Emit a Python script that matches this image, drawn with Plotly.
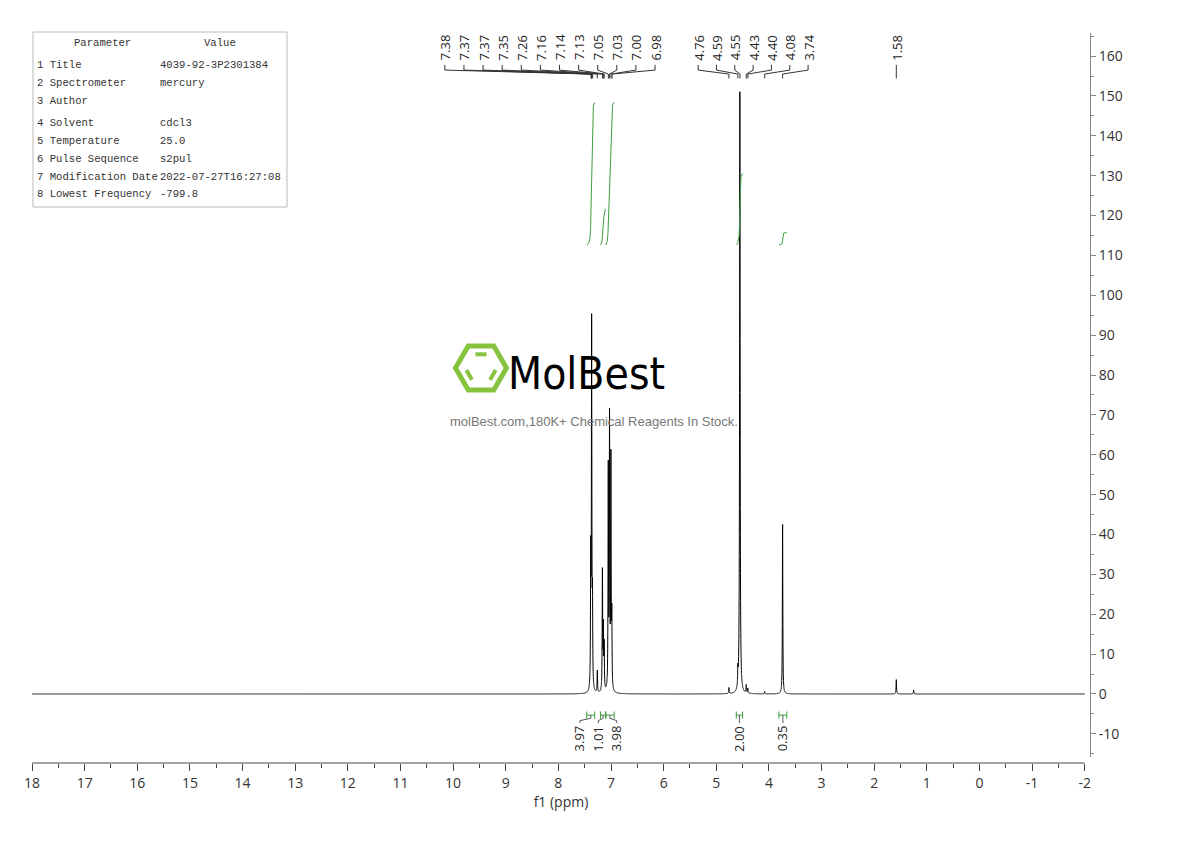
import numpy as np
import plotly.graph_objects as go

# ---------------- data ----------------
# spectrum peaks (ppm, height, half-width)
peak_ppm = [7.385, 7.368, 7.352, 7.26, 7.163, 7.145, 7.13, 7.052, 7.028, 7.002, 6.985,
            4.76, 4.59, 4.552, 4.43, 4.40, 4.08, 3.74, 1.58, 1.25]
peak_height = [32, 91, 20, 5.5, 30, 15, 11, 55, 67, 57, 17,
               1.5, 4.0, 151, 2.0, 1.2, 0.6, 42.5, 3.6, 1.0]
peak_hwhm = [0.005] * 13 + [0.006] + [0.005] * 6

# peak-pick labels (three groups)
pick_group1 = [7.38, 7.37, 7.37, 7.35, 7.26, 7.16, 7.14, 7.13, 7.05, 7.03, 7.00, 6.98]
pick_group2 = [4.76, 4.59, 4.55, 4.43, 4.40, 4.08, 3.74]
pick_group3 = [1.58]

# integrations
int_start = [7.46, 7.20, 7.10, 4.62, 3.81]
int_end = [7.31, 7.10, 6.94, 4.50, 3.66]
int_value = [3.97, 1.01, 3.98, 2.00, 0.35]

# axis ticks
x_ticks = list(range(18, -3, -1))
x_ticktext = [str(v) for v in x_ticks]
y_ticks = list(range(-10, 170, 10))
y_ticktext = [str(v) for v in y_ticks]

# parameter table
param_names = ["1 Title", "2 Spectrometer", "3 Author", "4 Solvent", "5 Temperature",
               "6 Pulse Sequence", "7 Modification Date", "8 Lowest Frequency"]
param_values = ["4039-92-3P2301384", "mercury", "", "cdcl3", "25.0", "s2pul",
                "2022-07-27T16:27:08", "-799.8"]

# ---------------- layout constants ----------------
W, H = 1190, 841
OFF = 8  # page body margin
PL, PR, PT, PB = 32, 1090, 33, 763   # plot area in page pixels
PW, PH = PR - PL, PB - PT
L, T = PL - OFF, PT - OFF
R, B = W - (PR - OFF), H - (PB - OFF)
XR = [18, -2.1]
YR = [-15.85, 165.8]
GREEN = "#3f9e3f"
TICKFONT = dict(family="Open Sans, Noto Sans, sans-serif", size=14, color="#333333")
LABFONT = dict(family="Open Sans, Noto Sans, sans-serif", size=13, color="#222222")


def px_x(xp):
    return (xp - PL) / PW


def px_y(yp):
    return (PB - yp) / PH


# ---------------- spectrum ----------------
x = np.linspace(18, -2, 20001)
y = np.zeros_like(x)
for p, h, g in zip(peak_ppm, peak_height, peak_hwhm):
    y += h * g * g / ((x - p) ** 2 + g * g)

fig = go.Figure()
fig.add_trace(go.Scatter(x=x, y=y, mode="lines",
                         line=dict(color="black", width=1, simplify=False),
                         hoverinfo="skip", showlegend=False))

# integral curves (cumulative area of the spectrum)
INT_BASE = 112.6
INT_SCALE = 9.0
for a, b, v in zip(int_start, int_end, int_value):
    m = (x <= a) & (x >= b)
    xs = x[m]
    cs = np.cumsum(y[m])
    cs = cs / cs[-1]
    ys = INT_BASE + INT_SCALE * v * cs
    fig.add_trace(go.Scatter(x=xs, y=ys, mode="lines",
                             line=dict(color=GREEN, width=1),
                             hoverinfo="skip", showlegend=False))

shapes = []
annotations = []

# ---------------- peak pick labels ----------------
Y_LAB = 158.4   # label bottom
Y_A, Y_B, Y_C, Y_D = 157.8, 156.5, 155.5, 154.4
groups = [(pick_group1, 8.16, 0.363), (pick_group2, 4.30, 0.348), (pick_group3, 1.58, 0.35)]
for vals, center, spacing in groups:
    n = len(vals)
    for i, v in enumerate(vals):
        lx = center + spacing * ((n - 1) / 2 - i)
        annotations.append(dict(x=lx, y=Y_LAB, xref="x", yref="y", text=f"{v:.2f}",
                                textangle=-90, showarrow=False, xanchor="center",
                                yanchor="bottom", font=LABFONT))
        path = f"M {lx},{Y_A} L {lx},{Y_B} L {v},{Y_C} L {v},{Y_D}"
        shapes.append(dict(type="path", path=path, xref="x", yref="y",
                           line=dict(color="#333333", width=1)))

# ---------------- integration brackets + labels ----------------
Y_BR = -5.3
int_label_pos = []
g_mid = 7.24
for i in range(3):
    int_label_pos.append(g_mid + 0.35 * (1 - i))
for i in range(3, 5):
    int_label_pos.append((int_start[i] + int_end[i]) / 2)

for a, b, v, lx in zip(int_start, int_end, int_value, int_label_pos):
    c = (a + b) / 2
    shapes.append(dict(type="line", x0=a, x1=b, y0=Y_BR, y1=Y_BR, xref="x", yref="y",
                       line=dict(color=GREEN, width=1)))
    for e in (a, b):
        shapes.append(dict(type="line", x0=e, x1=e, y0=Y_BR - 0.9, y1=Y_BR + 0.9,
                           xref="x", yref="y", line=dict(color=GREEN, width=1)))
    path = f"M {c},{Y_BR} L {c},{Y_BR - 0.8} L {lx},{Y_BR - 1.4} L {lx},{Y_BR - 2.0}"
    shapes.append(dict(type="path", path=path, xref="x", yref="y",
                       line=dict(color="#555555", width=1)))
    annotations.append(dict(x=lx, y=Y_BR - 2.1, xref="x", yref="y", text=f"{v:.2f}",
                            textangle=-90, showarrow=False, xanchor="center",
                            yanchor="top", font=LABFONT))

# x axis line only from 18 to -2
shapes.append(dict(type="line", x0=18, x1=-2, y0=0, y1=0, xref="x", yref="paper",
                   line=dict(color="#444444", width=1)))

# ---------------- parameter table ----------------
shapes.append(dict(type="rect", x0=px_x(33), x1=px_x(287), y0=px_y(32), y1=px_y(207),
                   xref="paper", yref="paper", line=dict(color="#bbbbbb", width=1)))
TFONT = dict(family="Liberation Mono, DejaVu Sans Mono, monospace", size=10.6, color="#333333")
annotations.append(dict(x=px_x(102), y=px_y(43), xref="paper", yref="paper", text="Parameter",
                        showarrow=False, xanchor="center", yanchor="middle", font=TFONT))
annotations.append(dict(x=px_x(220), y=px_y(43), xref="paper", yref="paper", text="Value",
                        showarrow=False, xanchor="center", yanchor="middle", font=TFONT))
row_y = [65, 83, 101, 123, 141, 159, 177, 194]
for ry, nme, val in zip(row_y, param_names, param_values):
    annotations.append(dict(x=px_x(35), y=px_y(ry), xref="paper", yref="paper", text=nme,
                            showarrow=False, xanchor="left", yanchor="middle", font=TFONT))
    if val:
        annotations.append(dict(x=px_x(158), y=px_y(ry), xref="paper", yref="paper", text=val,
                                showarrow=False, xanchor="left", yanchor="middle", font=TFONT))

# ---------------- watermark logo ----------------
LOGO_GREEN = "#86c440"
cx, cy, Rh = 481, 368, 25.5
ang = np.deg2rad(np.arange(0, 360, 60))
vx = cx + Rh * np.cos(ang)
vy = cy - Rh * np.sin(ang)
hex_path = "M " + " L ".join(f"{px_x(a)},{px_y(b)}" for a, b in zip(vx, vy)) + " Z"
shapes.append(dict(type="path", path=hex_path, xref="paper", yref="paper",
                   line=dict(color=LOGO_GREEN, width=5)))
ri = Rh * 0.62
ix = cx + ri * np.cos(ang)
iy = cy - ri * np.sin(ang)
for k0, k1 in [(1, 2), (3, 4), (5, 0)]:
    x0 = ix[k0] + 0.15 * (ix[k1] - ix[k0]); x1 = ix[k0] + 0.85 * (ix[k1] - ix[k0])
    y0 = iy[k0] + 0.15 * (iy[k1] - iy[k0]); y1 = iy[k0] + 0.85 * (iy[k1] - iy[k0])
    shapes.append(dict(type="line", x0=px_x(x0), x1=px_x(x1), y0=px_y(y0), y1=px_y(y1),
                       xref="paper", yref="paper", line=dict(color=LOGO_GREEN, width=4)))
annotations.append(dict(x=px_x(586), y=px_y(373), xref="paper", yref="paper", text="MolBest",
                        showarrow=False, xanchor="center", yanchor="middle",
                        font=dict(family="Liberation Sans Narrow, DejaVu Sans Condensed, Roboto Condensed, Noto Sans",
                                  size=44, color="black")))
annotations.append(dict(x=px_x(594), y=px_y(421), xref="paper", yref="paper",
                        text="molBest.com,180K+ Chemical Reagents In Stock.",
                        showarrow=False, xanchor="center", yanchor="middle",
                        font=dict(family="Liberation Sans, Arial, sans-serif", size=13, color="#777777")))

# ---------------- layout ----------------
fig.update_layout(
    width=W, height=H,
    margin=dict(l=L, r=R, t=T, b=B),
    paper_bgcolor="white", plot_bgcolor="white",
    showlegend=False,
    shapes=shapes, annotations=annotations,
    xaxis=dict(range=XR, anchor="free", position=0, showgrid=False, zeroline=False,
               showline=False, tickmode="array", tickvals=x_ticks, ticktext=x_ticktext,
               ticks="outside", ticklen=7, tickcolor="#444444", tickfont=TICKFONT,
               minor=dict(tickmode="array", tickvals=[v + 0.5 for v in range(-2, 18)],
                          ticks="outside", ticklen=4, tickcolor="#444444"),
               title=dict(text="f1 (ppm)", font=TICKFONT, standoff=2)),
    yaxis=dict(range=YR, domain=[0.008, 1], side="right", anchor="free", position=1,
               showgrid=False, zeroline=False, showline=True, linecolor="#888888", linewidth=1,
               tickmode="array", tickvals=y_ticks, ticktext=y_ticktext,
               ticks="outside", ticklen=5, tickcolor="#888888", tickfont=TICKFONT,
               minor=dict(tickmode="array", tickvals=list(range(-15, 170, 10)),
                          ticks="outside", ticklen=3, tickcolor="#888888")),
)

fig.write_html("out.html")
